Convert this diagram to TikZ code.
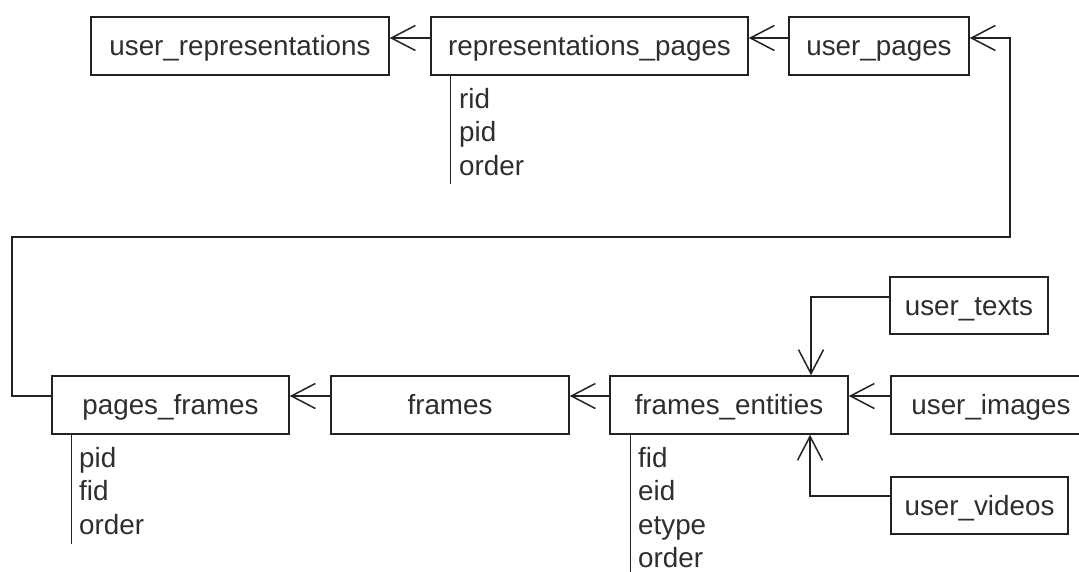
\documentclass[tikz,border=0pt]{standalone}
\usepackage{fontspec}
\setmainfont{Liberation Sans}
\usetikzlibrary{arrows.meta}
\definecolor{linec}{HTML}{222222}
\definecolor{textc}{HTML}{2E2E2E}
\begin{document}
\begin{tikzpicture}[x=1pt,y=-1pt,
  box/.style={draw=linec, line width=1.5pt, minimum height=58pt, inner sep=0pt,
    text height=19pt, text depth=0pt, font=\fontsize{27.8}{33}\selectfont, text=textc},
  attr/.style={anchor=base west, inner sep=0pt, font=\fontsize{27.8}{33}\selectfont, text=textc},
  conn/.style={draw=linec, line width=1.5pt, -{Straight Barb[length=24pt,width=25pt]}},
  attrline/.style={draw=linec, line width=1.5pt}
]
\useasboundingbox (0,0) rectangle (1079,571);

% top row
\node[box, minimum width=298pt] (userrep) at (240,46) {user\_representations};
\node[box, minimum width=317pt] (reppages) at (589.5,46) {representations\_pages};
\node[box, minimum width=180pt] (userpages) at (879,46) {user\_pages};

% bottom row
\node[box, minimum width=237pt] (pagesframes) at (170.5,405) {pages\_frames};
\node[box, minimum width=238pt] (frames) at (450,405) {frames};
\node[box, minimum width=238pt] (framesent) at (729,405) {frames\_entities};
\node[box, minimum width=200pt] (userimages) at (991,405) {user\_images};
\node[box, minimum width=158pt, minimum height=57pt] (usertexts) at (969,305.5) {user\_texts};
\node[box, minimum width=177pt, minimum height=57pt] (uservideos) at (979.5,505.5) {user\_videos};

% connectors
\draw[conn] ([yshift=8pt]reppages.west) -- ([yshift=8pt]userrep.east);
\draw[conn] ([yshift=8pt]userpages.west) -- ([yshift=8pt]reppages.east);
\coordinate (c1) at (12,237);
\coordinate (c2) at (1010,237);
\draw[conn] ([yshift=9pt]pagesframes.west) -| (c1) -- (c2) |- ([yshift=8pt]userpages.east);
\draw[conn] ([yshift=9pt]frames.west) -- ([yshift=9pt]pagesframes.east);
\draw[conn] ([yshift=9pt]framesent.west) -- ([yshift=9pt]frames.east);
\draw[conn] ([yshift=9pt]userimages.west) -- ([yshift=9pt]framesent.east);
\draw[conn] ([yshift=8.5pt]usertexts.west) -| ([xshift=82pt]framesent.north);
\draw[conn] ([yshift=9.5pt]uservideos.west) -| ([xshift=81pt]framesent.south);

% attribute lists
\draw[attrline] ([xshift=20pt]reppages.south west) -- ++(0,108);
\node[attr] (rp1) at (459,108) {rid};
\node[attr] (rp2) at (459,141) {pid};
\node[attr] (rp3) at (459,175) {order};

\draw[attrline] ([xshift=20pt]pagesframes.south west) -- ++(0,109);
\node[attr] (pf1) at (79,467) {pid};
\node[attr] (pf2) at (79,500) {fid};
\node[attr] (pf3) at (79,534) {order};

\draw[attrline] ([xshift=21pt]framesent.south west) -- ++(0,140);
\node[attr] (fe1) at (638,467) {fid};
\node[attr] (fe2) at (638,500) {eid};
\node[attr] (fe3) at (638,534) {etype};
\node[attr] (fe4) at (638,567) {order};
\end{tikzpicture}
\end{document}
